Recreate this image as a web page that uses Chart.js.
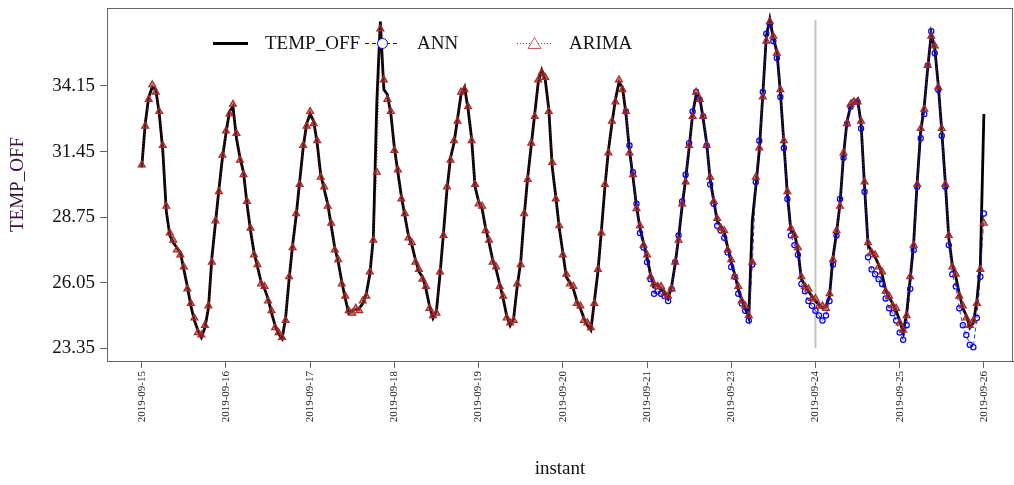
<!DOCTYPE html>
<html>
<head>
<meta charset="utf-8">
<title>TEMP_OFF</title>
<script src="https://cdn.jsdelivr.net/npm/chart.js@4.4.1/dist/chart.umd.min.js"></script>
<style>
  html, body { margin: 0; padding: 0; background: #fff; }
  #wrap { width: 1014px; height: 485px; }
</style>
</head>
<body>
<div id="wrap"><canvas id="chart" width="1014" height="485"></canvas></div>
<script>
// x = hours since 2019-09-15 00:00, one sample per hour
const tickLabels = ['2019-09-15', '2019-09-16', '2019-09-17', '2019-09-18', '2019-09-19', '2019-09-20',
    '2019-09-21', '2019-09-23', '2019-09-24', '2019-09-25', '2019-09-26'];
const yTicks = [23.35, 26.05, 28.75, 31.45, 34.15];

const tempOff = [
    30.8, 32.6, 33.7, 34.1, 34.0, 33.0, 31.5, 29.0, 28.0, 27.7, 27.5, 27.3, 26.6, 25.9, 25.1, 24.5, 24.1, 23.8, 24.2, 25.0, 27.1, 28.5, 29.9, 31.2,
    32.2, 33.1, 33.3, 32.0, 31.2, 30.6, 29.3, 28.2, 27.3, 26.7, 26.1, 25.8, 25.4, 24.8, 24.3, 23.95, 23.75, 24.6, 26.2, 27.6, 28.8, 30.2, 31.6, 32.6,
    33.0, 32.7, 31.8, 30.5, 29.9, 29.3, 28.4, 27.5, 26.9, 26.1, 25.4, 24.8, 24.9, 24.95, 25.0, 25.2, 25.6, 26.4, 27.9, 33.5, 36.8, 34.0, 33.8, 33.0,
    31.6, 30.6, 29.6, 28.8, 28.0, 27.6, 27.0, 26.5, 26.3, 25.8, 25.1, 24.6, 24.9, 26.4, 28.1, 29.9, 31.2, 31.8, 32.8, 33.8, 34.1, 33.2, 32.0, 30.0,
    29.4, 29.1, 28.3, 27.7, 27.0, 26.6, 26.0, 25.4, 24.7, 24.3, 24.6, 25.9, 26.9, 28.8, 30.4, 31.7, 33.0, 34.3, 34.8, 34.4, 33.2, 30.8, 29.6, 28.3,
    27.3, 26.3, 26.05, 25.8, 25.3, 25.0, 24.6, 24.3, 24.1, 25.3, 26.5, 28.2, 30.0, 31.5, 32.6, 33.6, 34.3, 34.1, 33.0, 31.5, 30.4, 29.2, 28.3, 27.7,
    27.1, 26.4, 25.9, 26.0, 25.8, 25.65, 25.4, 25.9, 26.8, 27.9, 29.2, 30.3, 31.6, 33.0, 33.8, 33.7, 32.8, 31.8, 30.3, 29.45, 28.6, 28.4, 28.15, 27.5,
    26.9, 26.4, 25.8, 25.35, 25.0, 24.6, 28.6, 30.0, 31.5, 33.8, 36.2, 36.9, 36.1, 35.6, 33.9, 31.8, 29.7, 28.2, 28.1, 27.4, 26.2, 25.95, 25.7, 25.5,
    25.3, 25.15, 25.0, 25.1, 25.5, 27.1, 28.1, 29.3, 31.3, 32.7, 33.3, 33.45, 33.6, 32.6, 30.0, 27.6, 27.35, 27.1, 26.8, 26.4, 25.75, 25.45, 25.2, 24.9,
    24.5, 24.0, 24.8, 26.2, 27.7, 30.2, 32.3, 33.3, 34.9, 36.3, 35.7, 34.2, 32.3, 30.2, 27.9, 26.8, 26.3, 25.6, 25.0, 24.7, 24.2, 24.4, 25.3, 26.8,
    33.0
];

const arima = [
    30.9, 32.5, 33.6, 34.2, 33.9, 33.1, 31.7, 29.2, 28.1, 27.8, 27.4, 27.2, 26.7, 25.8, 25.2, 24.6, 24.0, 23.9, 24.3, 25.1, 26.9, 28.6, 29.8, 31.3,
    32.3, 33.0, 33.4, 32.2, 31.1, 30.5, 29.4, 28.3, 27.2, 26.8, 26.0, 25.9, 25.3, 24.9, 24.2, 24.0, 23.8, 24.5, 26.3, 27.5, 28.9, 30.1, 31.7, 32.5,
    33.1, 32.6, 31.9, 30.4, 30.0, 29.2, 28.5, 27.4, 27.0, 26.0, 25.5, 24.9, 24.8, 25.0, 24.9, 25.3, 25.5, 26.5, 27.8, 30.6, 36.5, 34.4, 33.6, 33.1,
    31.5, 30.7, 29.5, 28.9, 27.9, 27.7, 26.9, 26.6, 26.2, 25.9, 25.0, 24.7, 24.8, 26.5, 28.0, 30.0, 31.1, 31.9, 32.7, 33.9, 34.0, 33.3, 31.9, 30.1,
    29.3, 29.2, 28.2, 27.8, 26.9, 26.7, 25.9, 25.5, 24.6, 24.4, 24.5, 26.0, 26.8, 28.9, 30.3, 31.8, 32.9, 34.4, 34.7, 34.5, 33.1, 31.0, 29.5, 28.4,
    27.2, 26.4, 26.0, 25.9, 25.2, 25.1, 24.5, 24.4, 24.2, 25.2, 26.6, 28.1, 30.1, 31.4, 32.7, 33.5, 34.4, 34.0, 33.1, 31.4, 30.5, 29.1, 28.4, 27.6,
    27.2, 26.3, 26.0, 25.9, 25.9, 25.6, 25.5, 25.8, 26.9, 27.8, 29.3, 30.2, 31.7, 32.9, 33.9, 33.6, 32.9, 31.7, 30.4, 29.4, 28.7, 28.3, 28.2, 27.4,
    27.0, 26.3, 25.9, 25.3, 25.1, 24.7, 26.9, 30.4, 31.6, 33.7, 36.0, 36.8, 36.2, 35.5, 34.0, 31.9, 29.8, 28.3, 28.0, 27.5, 26.3, 25.9, 25.8, 25.4,
    25.4, 25.1, 25.1, 25.0, 25.6, 27.0, 28.2, 29.2, 31.4, 32.6, 33.4, 33.5, 33.5, 32.7, 30.2, 27.7, 27.3, 27.2, 26.7, 26.5, 25.7, 25.5, 25.1, 25.0,
    24.4, 24.1, 24.7, 26.3, 27.6, 30.1, 32.4, 33.2, 35.0, 36.2, 35.8, 34.1, 32.4, 30.1, 28.0, 26.7, 26.4, 25.5, 25.1, 24.6, 24.3, 24.5, 25.2, 26.6,
    28.5
];

// ANN forecast covers the last part of the period only
const annStart = 138;
const ann = [
    33.1, 31.7, 30.6, 29.3, 28.1, 27.5,
    26.9, 26.2, 25.6, 25.7, 25.6, 25.5, 25.3, 25.8, 26.9, 28.0, 29.4, 30.5, 31.8, 33.1, 33.9, 33.6, 32.9, 31.7, 30.1, 29.3, 28.4, 28.2, 27.9, 27.3,
    26.7, 26.3, 25.6, 25.2, 24.9, 24.5, 26.8, 30.2, 31.9, 33.9, 36.3, 36.7, 36.0, 35.3, 33.7, 31.6, 29.5, 28.0, 27.6, 27.2, 26.0, 25.7, 25.3, 25.1,
    24.9, 24.7, 24.5, 24.7, 25.3, 26.8, 28.0, 29.5, 31.2, 32.6, 33.3, 33.5, 33.5, 32.4, 29.8, 27.1, 26.6, 26.4, 26.2, 26.0, 25.4, 25.0, 24.8, 24.5,
    24.0, 23.7, 24.3, 25.8, 27.4, 30.0, 32.0, 33.0, 35.0, 36.4, 35.5, 34.0, 32.1, 30.0, 27.6, 26.4, 25.9, 25.0, 24.3, 23.9, 23.5, 23.4, 24.6, 26.3,
    28.9
];

// train / test split marker
const splitHour = 192;
const splitRange = [23.35, 36.87];

const SERIF = "'Liberation Serif', 'Times New Roman', serif";
const toPoints = (arr, start = 0) => arr.map((v, i) => ({ x: start + i, y: v }));

// drop the extra room chart.js keeps for overflowing tick labels
const noOverflow = scale => {
    scale.paddingTop = 0;
    scale.paddingBottom = 0;
    scale.paddingLeft = 0;
    scale.paddingRight = 0;
};

// box around the plot area plus the legend row inside it
const frameLegend = {
    id: 'frameLegend',
    afterDatasetsDraw(chart) {
        const { ctx, chartArea: ca } = chart;
        ctx.save();
        ctx.strokeStyle = '#666';
        ctx.lineWidth = 1;
        ctx.strokeRect(ca.left + 0.5, ca.top + 0.5, ca.right - ca.left - 1, ca.bottom - ca.top);

        const y = ca.top + 35.5;
        const items = [
            { label: 'TEMP_OFF', x: ca.left + 106, color: '#000', width: 3, dash: [], marker: null },
            { label: 'ANN', x: ca.left + 258, color: '#0000ff', width: 1, dash: [4, 3], marker: 'circle' },
            { label: 'ARIMA', x: ca.left + 410, color: '#a52a2a', width: 1, dash: [1, 2], marker: 'triangle' }
        ];
        items.forEach(it => {
            ctx.beginPath();
            ctx.setLineDash(it.dash);
            ctx.strokeStyle = it.color;
            ctx.lineWidth = it.width;
            ctx.moveTo(it.x, y);
            ctx.lineTo(it.x + 35, y);
            ctx.stroke();
            ctx.setLineDash([]);
            const cx = it.x + 17.5;
            if (it.marker === 'circle') {
                ctx.beginPath();
                ctx.fillStyle = '#fff';
                ctx.arc(cx, y, 5, 0, Math.PI * 2);
                ctx.fill();
                ctx.stroke();
            } else if (it.marker === 'triangle') {
                ctx.beginPath();
                ctx.fillStyle = '#fff';
                ctx.strokeStyle = '#c26060';
                ctx.moveTo(cx, y - 6);
                ctx.lineTo(cx + 6.5, y + 5);
                ctx.lineTo(cx - 6.5, y + 5);
                ctx.closePath();
                ctx.fill();
                ctx.stroke();
            }
            ctx.fillStyle = '#111';
            ctx.font = '19px ' + SERIF;
            ctx.textBaseline = 'middle';
            ctx.textAlign = 'left';
            ctx.fillText(it.label, it.x + 52, y + 1);
        });
        ctx.restore();
    }
};

new Chart(document.getElementById('chart'), {
    type: 'line',
    data: {
        datasets: [
            {
                label: 'ARIMA', data: toPoints(arima), order: 0,
                borderColor: '#a52a2a', borderWidth: 0.8, borderDash: [1, 2],
                pointStyle: 'triangle', pointRadius: 4, pointBorderWidth: 1.2,
                pointBorderColor: '#a52a2a', pointBackgroundColor: 'rgba(165,42,42,0.55)'
            },
            {
                label: 'ANN', data: toPoints(ann, annStart), order: 1,
                borderColor: '#0000ff', borderWidth: 0.8, borderDash: [4, 3],
                pointStyle: 'circle', pointRadius: 2.6, pointBorderWidth: 1.2,
                pointBorderColor: '#0000ff', pointBackgroundColor: 'rgba(0,0,0,0)'
            },
            {
                label: 'TEMP_OFF', data: toPoints(tempOff), order: 2,
                borderColor: '#000', borderWidth: 2.8, pointRadius: 0
            },
            {
                label: 'split', order: 3,
                data: [{ x: splitHour, y: splitRange[0] }, { x: splitHour, y: splitRange[1] }],
                borderColor: '#c4c4c4', borderWidth: 2, pointRadius: 0
            }
        ]
    },
    options: {
        responsive: false,
        animation: false,
        devicePixelRatio: 1,
        layout: { autoPadding: false, padding: { left: 0, top: 8, right: 1, bottom: 0 } },
        plugins: { legend: { display: false }, tooltip: { enabled: false } },
        scales: {
            x: {
                type: 'linear',
                min: -9.9,
                max: 248.3,
                afterBuildTicks: scale => { scale.ticks = tickLabels.map((_, i) => ({ value: i * 24 })); },
                afterFit: scale => { scale.height = 124; noOverflow(scale); },
                ticks: {
                    autoSkip: false, minRotation: 90, maxRotation: 90, padding: 3,
                    color: '#222', font: { family: SERIF, size: 11 },
                    callback: v => tickLabels[Math.round(v / 24)]
                },
                grid: { drawOnChartArea: false, drawTicks: true, tickLength: 7, color: '#666' },
                border: { display: true, color: '#666', width: 1 },
                title: {
                    display: true, text: 'instant', color: '#111',
                    font: { family: SERIF, size: 19 }, padding: { top: 0, bottom: 5 }
                }
            },
            y: {
                min: 22.83,
                max: 37.36,
                afterBuildTicks: scale => { scale.ticks = yTicks.map(v => ({ value: v })); },
                afterFit: scale => { scale.width = 107; noOverflow(scale); },
                ticks: {
                    padding: 5, color: '#111', font: { family: SERIF, size: 19 },
                    callback: v => v.toFixed(2)
                },
                grid: { drawOnChartArea: false, drawTicks: true, tickLength: 7, color: '#666' },
                border: { display: true, color: '#666', width: 1 },
                title: {
                    display: true, text: 'TEMP_OFF', color: '#3b0f3f',
                    font: { family: SERIF, size: 19 }, padding: { top: 7, bottom: 0 }
                }
            }
        }
    },
    plugins: [frameLegend]
});
</script>
</body>
</html>
